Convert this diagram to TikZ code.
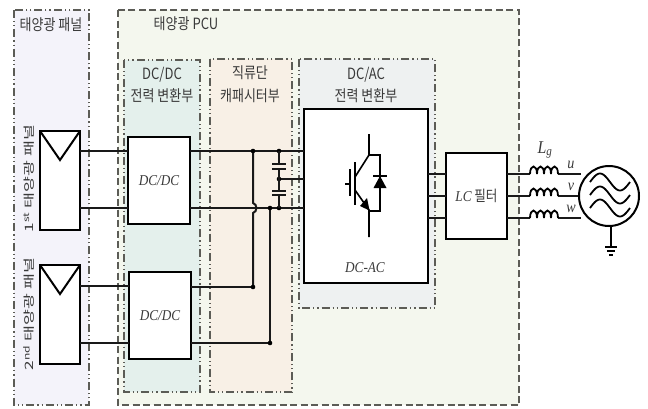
\documentclass[tikz,border=0pt]{standalone}
\usepackage{fontspec}
\setmainfont{Noto Sans CJK KR}
\newfontfamily\tallf[FakeStretch=0.84]{Noto Sans CJK KR}
\newfontfamily\longf[FakeStretch=1.5]{Noto Sans CJK KR}
\newfontfamily\ital[FakeStretch=0.88,ItalicFont={Liberation Serif Italic}]{Liberation Serif}
\usetikzlibrary{arrows.meta}
\definecolor{edgeg}{HTML}{5C5C56}
\definecolor{labtxt}{HTML}{3A3A3A}
\definecolor{panelfill}{HTML}{F4F3FA}
\definecolor{pcufill}{HTML}{F4F7EE}
\definecolor{dcdcfill}{HTML}{E4F0EC}
\definecolor{linkfill}{HTML}{F8F0E6}
\definecolor{dcacfill}{HTML}{EEF1F1}
\tikzset{
  x=1pt,y=-1pt,
  regiondd/.style={draw=edgeg,line width=1.1pt,dash pattern=on 8pt off 3pt on 1.2pt off 3pt on 1.2pt off 3pt},
  regiondash/.style={draw=edgeg,line width=1.1pt,dash pattern=on 7pt off 3.5pt},
  blockbox/.style={draw=black,line width=2.2pt,fill=white,inner sep=0pt,outer sep=0pt},
  wire/.style={draw=black!90,line width=2pt},
  devline/.style={draw=black,line width=1.6pt},
  lab/.style={text=labtxt,font=\tallf\fontsize{15.5}{22.5}\selectfont,inner sep=0pt,align=center},
  sidelab/.style={text=labtxt,font=\longf\fontsize{11.5}{13}\selectfont,inner sep=0pt,rotate=90},
  ilab/.style={text=labtxt,font=\ital\itshape\fontsize{15}{15}\selectfont,inner sep=0pt},
  philab/.style={text=labtxt,font=\ital\itshape\fontsize{16}{16}\selectfont,inner sep=0pt},
  jdot/.style={circle,fill=black,inner sep=0pt,minimum size=4.6pt},
}
\begin{document}
\begin{tikzpicture}
\useasboundingbox (0,0) rectangle (648,408);
\fill[white] (0,0) rectangle (648,408);
% regions
\path[fill=panelfill,regiondd] (14,10) rectangle (89,405);
\path[fill=pcufill,regiondash] (118,10) rectangle (519,405);
\path[fill=dcdcfill,regiondd] (124,60) rectangle (200,392);
\path[fill=linkfill,regiondd] (210,59) rectangle (292,392);
\path[fill=dcacfill,regiondd] (299,59) rectangle (435,308);
% region labels
\node[lab] (tpanel) at (51,25) {태양광 패널};
\node[lab] (tpcu) at (186,24) {태양광 PCU};
\node[lab] (tdcdc) at (162,85) {DC/DC\\전력 변환부};
\node[lab] (tlink) at (250,84) {직류단\\캐패시터부};
\node[lab] (tdcac) at (366,85) {DC/AC\\전력 변환부};
\node[sidelab] (tp1) at (29,178.5) {1\textsuperscript{st} 태양광 패널};
\node[sidelab] (tp2) at (29,314) {2\textsuperscript{nd} 태양광 패널};
% blocks
\coordinate (ja) at (253,151);
\coordinate (jb) at (253,287);
\coordinate (jc) at (270,208);
\coordinate (jd) at (270,343);
\coordinate (capt) at (279,151);
\coordinate (capm) at (279,179);
\coordinate (capb) at (279,208);
\node[blockbox,minimum width=40pt,minimum height=99pt] (pv1) at (60,180.5) {};
\node[blockbox,minimum width=40pt,minimum height=99pt] (pv2) at (60,314.5) {};
\node[blockbox,minimum width=62pt,minimum height=87pt] (conv1) at (159,180.5) {};
\node[blockbox,minimum width=62pt,minimum height=87pt] (conv2) at (160,315.5) {};
\node[blockbox,minimum width=124pt,minimum height=174pt] (inv) at (366,196) {};
\node[blockbox,minimum width=61pt,minimum height=86pt] (lcf) at (476.5,196) {};
\node[ilab] (tc1) at (conv1) {DC/DC};
\node[ilab] (tc2) at (conv2) {DC/DC};
\node[ilab] (tinv) at (365,268) {DC-AC};
\node[lab,font=\tallf\fontsize{15}{15}\selectfont] (tlc) at (lcf) {{\ital\itshape LC} 필터};
% PV triangles
\draw[devline,line width=2pt,line join=miter] (pv1.north west) -- (60,160) -- (pv1.north east);
\draw[devline,line width=2pt,line join=miter] (pv2.north west) -- (60,294) -- (pv2.north east);
% connections PV - converter
\draw[wire] (pv1.east |- 0,151) -- (conv1.west |- 0,151);
\draw[wire] (pv1.east |- 0,208) -- (conv1.west |- 0,208);
\draw[wire] (pv2.east |- 0,286) -- (conv2.west |- 0,286);
\draw[wire] (pv2.east |- 0,343) -- (conv2.west |- 0,343);
% converter - DC link
\draw[wire] (conv1.east |- ja) -- (inv.west |- ja);
\draw[wire] (conv1.east |- jc) -- (inv.west |- jc);
\draw[wire] (conv2.east |- jb) -- (jb);
\draw[wire] (conv2.east |- jd) -- (jd);
\draw[wire] (capm) -- (inv.west |- capm);
% bus jumpers
\draw[wire] (ja) -- (253,203) .. controls (257.5,204) and (257.5,212) .. (253,213) -- (jb);
\draw[wire] (jc) -- (jd);
\node[jdot] at (ja) {};
\node[jdot] at (jb) {};
\node[jdot] at (jc) {};
\node[jdot] at (jd) {};
\node[jdot] at (capt) {};
\node[jdot] at (capm) {};
\node[jdot] at (capb) {};
% capacitors
\draw[wire] (capt) -- (279,164);
\draw[wire] (279,169) -- (279,191);
\draw[wire] (279,195) -- (capb);
\foreach \py in {164,169,191,195} \draw[wire] (272,\py) -- (286,\py);
% IGBT
\draw[devline] (369,134) -- (369,155) -- (355,177);
\draw[devline] (355,162) -- (355,205);
\draw[devline] (350,169) -- (350,196);
\draw[devline] (345,184) -- (350,184);
\draw[devline] (355,190) -- (369,210) -- (369,237);
\fill[black] (369.5,210.5) -- (360,206) -- (367,198) -- cycle;
\draw[devline] (369,155) -- (380,155) -- (380,211) -- (369,211);
\fill[black] (380,176) -- (386.5,188) -- (373.5,188) -- cycle;
\draw[devline] (373,176) -- (387,176);
% outputs
\foreach \oy/\ol in {174/u,196/v,218/w}{
  \draw[wire] (inv.east |- 0,\oy) -- (lcf.west |- 0,\oy);
  \draw[wire] (lcf.east |- 0,\oy) -- (530,\oy);
  \draw[wire] (558,\oy) -- (580.5,\oy);
  \draw[devline,line width=1.8pt] (530,\oy)
    .. controls (530,\oy-10) and (537,\oy-10) .. (537,\oy)
    .. controls (537,\oy-10) and (544,\oy-10) .. (544,\oy)
    .. controls (544,\oy-10) and (551,\oy-10) .. (551,\oy)
    .. controls (551,\oy-10) and (558,\oy-10) .. (558,\oy);
  \node[philab] (lab\ol) at (571,\oy-9) {\ol};
}
\node[philab,font=\ital\itshape\fontsize{18}{18}\selectfont] (lg) at (545,150) {L\textsubscript{g}};
% grid source
\node[circle,draw=black,line width=2pt,minimum size=60pt,inner sep=0pt,fill=white] (grid) at (609,196) {};
\foreach \wy in {182,195,208}
  \draw[devline,line width=1.8pt,domain=590:630,samples=40,smooth] plot (\x,{\wy-8.5*sin(9*(\x-590))});
\coordinate (gnd) at (611,247);
\draw[devline] (grid.south -| gnd) -- (gnd);
\draw[devline] (605,247) -- (617,247);
\draw[devline] (607,251) -- (615,251);
\draw[devline] (609,255) -- (613,255);
\end{tikzpicture}
\end{document}
